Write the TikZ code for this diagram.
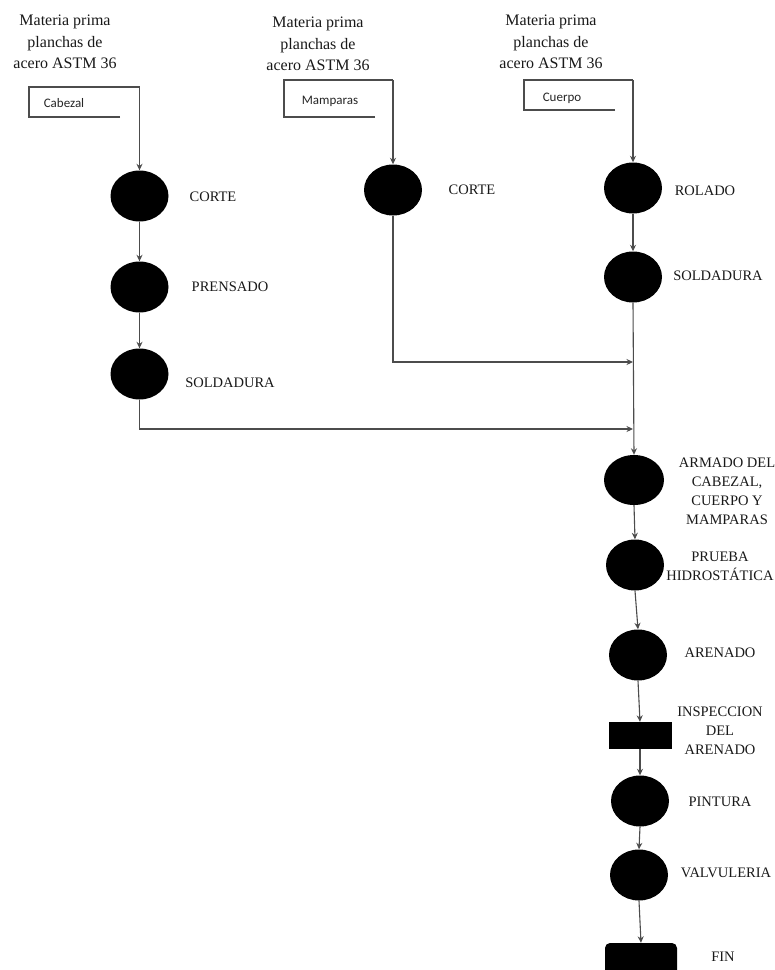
\documentclass[tikz,border=0pt]{standalone}
\usepackage{fontspec}
\setmainfont{Liberation Serif}
\newfontfamily\calfont{Carlito}
\usetikzlibrary{shapes.geometric,arrows.meta}
\tikzset{
  blob/.style={ellipse,fill=black,draw=none,minimum width=58pt,minimum height=51pt,inner sep=0pt},
  blk/.style={rectangle,fill=black,draw=none,inner sep=0pt},
  lbl/.style={font=\fontsize{14.5}{19}\selectfont,align=center,text=black!90,inner sep=0pt},
  src/.style={font=\fontsize{16}{21.5}\selectfont,align=center,text=black!90,inner sep=0pt},
  tag/.style={font=\calfont\fontsize{13}{15}\selectfont,text=black!85,inner sep=0pt},
  ln/.style={draw=black!70,line width=1.1pt},
  arr/.style={ln,-{Stealth[length=6.5pt,width=6pt]}}
}
\begin{document}
\begin{tikzpicture}[x=1pt,y=-1pt]
\useasboundingbox[fill=white] (0,0) rectangle (775,970);
% sources
\node[src] (m1) at (65,42) {Materia prima\\planchas de\\acero ASTM 36};
\node[src] (m2) at (318,44) {Materia prima\\planchas de\\acero ASTM 36};
\node[src] (m3) at (551,42) {Materia prima\\planchas de\\acero ASTM 36};
% boxes
\coordinate (b1) at (139.5,87);
\coordinate (b2) at (393,80);
\coordinate (b3) at (633,80);
\draw[ln] (120,117) -- (29,117) -- (29,87) -- (b1);
\draw[ln] (375,117) -- (284,117) -- (284,80) -- (b2);
\draw[ln] (615,110) -- (524,110) -- (524,80) -- (b3);
\node[tag] (t1) at (64,103) {Cabezal};
\node[tag] (t2) at (330,101) {Mamparas};
\node[tag] (t3) at (562,98) {Cuerpo};
% left column
\node[blob] (c1) at (139.5,196) {};
\node[blob] (p1) at (139.5,287) {};
\node[blob] (s1) at (139.5,374) {};
\node[lbl] (lc1) at (213,197) {CORTE};
\node[lbl] (lp1) at (230,287) {PRENSADO};
\node[lbl] (ls1) at (230,383) {SOLDADURA};
% middle column
\node[blob] (c2) at (393,190) {};
\node[lbl] (lc2) at (472,190) {CORTE};
% right column
\node[blob] (r3) at (633,188) {};
\node[blob] (s3) at (633,277) {};
\node[lbl] (lr3) at (705,191) {ROLADO};
\node[lbl] (ls3) at (718,276) {SOLDADURA};
\node[blob,minimum width=60pt,minimum height=50pt] (am) at (634,480) {};
\node[blob] (pr) at (635,565) {};
\node[blob] (ar) at (638,655) {};
\node[blk,minimum width=63pt,minimum height=27pt] (in) at (640,735.5) {};
\node[blob] (pi) at (640,801) {};
\node[blob] (va) at (639,875) {};
\node[blk,rounded corners=5pt,minimum width=72pt,minimum height=32pt] (fin) at (641,959) {};
\node[lbl] (lam) at (727,491) {ARMADO DEL\\CABEZAL,\\CUERPO Y\\MAMPARAS};
\node[lbl] (lpr) at (720,566) {PRUEBA\\HIDROSTÁTICA};
\node[lbl] (lar) at (720,653) {ARENADO};
\node[lbl] (lin) at (720,731) {INSPECCION\\DEL\\ARENADO};
\node[lbl] (lpi) at (720,802) {PINTURA};
\node[lbl] (lva) at (726,873) {VALVULERIA};
\node[lbl] (lfi) at (723,957) {FIN};
% connectors
\draw[arr] (b1) -- (c1.north);
\draw[arr] (c1.south) -- (p1.north);
\draw[arr] (p1.south) -- (s1.north);
\draw[arr] (b2) -- (c2.north);
\draw[arr] (b3) -- (r3.north);
\draw[arr] (r3.south) -- (s3.north);
\coordinate (j1) at (633,362);
\coordinate (j2) at (633,429);
\draw[arr] (s3.south) -- (am.north);
\draw[arr] (c2.south) |- (j1);
\draw[arr] (s1.south) |- (j2);
\draw[arr] (am.south) -- (pr.north);
\draw[arr] (pr.south) -- (ar.north);
\draw[arr] (ar.south) -- (in.north);
\draw[arr] (in.south) -- (pi.north);
\draw[arr] (pi.south) -- (va.north);
\draw[arr] (va.south) -- (fin.north);
\end{tikzpicture}
\end{document}
